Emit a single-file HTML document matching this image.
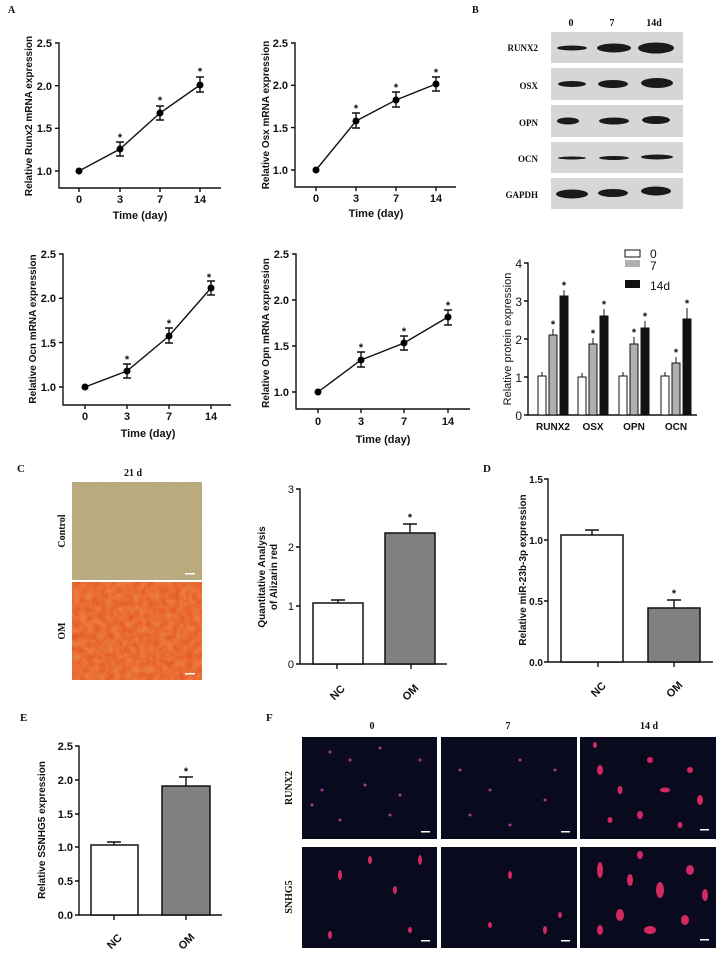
<!DOCTYPE html>
<html><head><meta charset="utf-8"><style>
html,body{margin:0;padding:0;background:#fff;}
svg{display:block;font-family:"Liberation Sans",Arial,sans-serif;}
.t{font-size:11px;font-weight:bold;fill:#111;}
.ax{font-size:10px;font-weight:bold;fill:#111;}
.s{font-family:"Liberation Serif",serif;font-weight:bold;font-size:10px;fill:#111;}
.l{stroke:#111;stroke-width:1.4;fill:none;}
</style></head><body>
<svg width="716" height="953" viewBox="0 0 716 953">
<defs>
<filter id="n1"><feTurbulence type="fractalNoise" baseFrequency="0.9" numOctaves="2" seed="3"/><feColorMatrix values="0 0 0 0 0.6  0 0 0 0 0.55  0 0 0 0 0.35  0 0 0 0.5 0"/><feComposite in2="SourceGraphic" operator="in"/></filter>
<filter id="n2"><feTurbulence type="fractalNoise" baseFrequency="0.15" numOctaves="3" seed="7"/><feColorMatrix values="0 0 0 0 0.95  0 0 0 0 0.55  0 0 0 0 0.2  0 0 0 0.5 0"/><feComposite in2="SourceGraphic" operator="in"/></filter>
</defs>
<text x="8" y="13" class="s">A</text>
<text x="472" y="13" class="s">B</text>

<!-- A1 -->
<g>
<path class="l" d="M55 43H59V188H221M55 85.7H59M55 128.3H59M55 171H59M79 188V192M120 188V192M160 188V192M200 188V192"/>
<text class="t" x="52" y="47" text-anchor="end">2.5</text><text class="t" x="52" y="90" text-anchor="end">2.0</text><text class="t" x="52" y="132" text-anchor="end">1.5</text><text class="t" x="52" y="175" text-anchor="end">1.0</text>
<text class="t" x="79" y="203" text-anchor="middle">0</text><text class="t" x="120" y="203" text-anchor="middle">3</text><text class="t" x="160" y="203" text-anchor="middle">7</text><text class="t" x="200" y="203" text-anchor="middle">14</text>
<text class="t" x="140" y="219" text-anchor="middle">Time (day)</text>
<text class="ax" transform="translate(32,116) rotate(-90)" text-anchor="middle">Relative Runx2 mRNA expression</text>
<polyline class="l" points="79,171 120,149 160,113 200,85"/>
<path class="l" d="M116 142H124M120 142V156M116 156H124M156 106H164M160 106V120M156 120H164M196 77H204M200 77V92M196 92H204"/>
<circle cx="79" cy="171" r="3.5"/><circle cx="120" cy="149" r="3.5"/><circle cx="160" cy="113" r="3.5"/><circle cx="200" cy="85" r="3.5"/>
<text class="t" x="120" y="141" text-anchor="middle">*</text><text class="t" x="160" y="104" text-anchor="middle">*</text><text class="t" x="200" y="75" text-anchor="middle">*</text>
</g>
<!-- A2 -->
<g>
<path class="l" d="M291 43H295V187H456M291 85.3H295M291 127.6H295M291 170H295M316 187V191M356 187V191M396 187V191M436 187V191"/>
<text class="t" x="288" y="47" text-anchor="end">2.5</text><text class="t" x="288" y="89" text-anchor="end">2.0</text><text class="t" x="288" y="132" text-anchor="end">1.5</text><text class="t" x="288" y="174" text-anchor="end">1.0</text>
<text class="t" x="316" y="202" text-anchor="middle">0</text><text class="t" x="356" y="202" text-anchor="middle">3</text><text class="t" x="396" y="202" text-anchor="middle">7</text><text class="t" x="436" y="202" text-anchor="middle">14</text>
<text class="t" x="376" y="217" text-anchor="middle">Time (day)</text>
<text class="ax" transform="translate(269,115) rotate(-90)" text-anchor="middle">Relative Osx mRNA expression</text>
<polyline class="l" points="316,170 356,121 396,100 436,84"/>
<path class="l" d="M352 113H360M356 113V128M352 128H360M392 92H400M396 92V107M392 107H400M432 77H440M436 77V91M432 91H440"/>
<circle cx="316" cy="170" r="3.5"/><circle cx="356" cy="121" r="3.5"/><circle cx="396" cy="100" r="3.5"/><circle cx="436" cy="84" r="3.5"/>
<text class="t" x="356" y="112" text-anchor="middle">*</text><text class="t" x="396" y="91" text-anchor="middle">*</text><text class="t" x="436" y="76" text-anchor="middle">*</text>
</g>
<!-- A3 -->
<g>
<path class="l" d="M59 254H63V405H231M59 298.3H63M59 342.6H63M59 387H63M85 405V409M127 405V409M169 405V409M211 405V409"/>
<text class="t" x="56" y="258" text-anchor="end">2.5</text><text class="t" x="56" y="302" text-anchor="end">2.0</text><text class="t" x="56" y="347" text-anchor="end">1.5</text><text class="t" x="56" y="391" text-anchor="end">1.0</text>
<text class="t" x="85" y="420" text-anchor="middle">0</text><text class="t" x="127" y="420" text-anchor="middle">3</text><text class="t" x="169" y="420" text-anchor="middle">7</text><text class="t" x="211" y="420" text-anchor="middle">14</text>
<text class="t" x="148" y="437" text-anchor="middle">Time (day)</text>
<text class="ax" transform="translate(36,329) rotate(-90)" text-anchor="middle">Relative Ocn mRNA expression</text>
<polyline class="l" points="85,387 127,371 169,336 211,288"/>
<path class="l" d="M123 364H131M127 364V378M123 378H131M165 328H173M169 328V343M165 343H173M207 281H215M211 281V295M207 295H215"/>
<circle cx="85" cy="387" r="3.5"/><circle cx="127" cy="371" r="3.5"/><circle cx="169" cy="336" r="3.5"/><circle cx="211" cy="288" r="3.5"/>
<text class="t" x="127" y="363" text-anchor="middle">*</text><text class="t" x="169" y="327" text-anchor="middle">*</text><text class="t" x="209" y="281" text-anchor="middle">*</text>
</g>
<!-- A4 -->
<g>
<path class="l" d="M292 254H296V409H470M292 300H296M292 346H296M292 392H296M318 409V413M361 409V413M404 409V413M448 409V413"/>
<text class="t" x="289" y="258" text-anchor="end">2.5</text><text class="t" x="289" y="304" text-anchor="end">2.0</text><text class="t" x="289" y="350" text-anchor="end">1.5</text><text class="t" x="289" y="396" text-anchor="end">1.0</text>
<text class="t" x="318" y="425" text-anchor="middle">0</text><text class="t" x="361" y="425" text-anchor="middle">3</text><text class="t" x="404" y="425" text-anchor="middle">7</text><text class="t" x="448" y="425" text-anchor="middle">14</text>
<text class="t" x="383" y="443" text-anchor="middle">Time (day)</text>
<text class="ax" transform="translate(269,333) rotate(-90)" text-anchor="middle">Relative Opn mRNA expression</text>
<polyline class="l" points="318,392 361,360 404,343 448,317"/>
<path class="l" d="M357 352H365M361 352V367M357 367H365M400 336H408M404 336V350M400 350H408M444 310H452M448 310V325M444 325H452"/>
<circle cx="318" cy="392" r="3.5"/><circle cx="361" cy="360" r="3.5"/><circle cx="404" cy="343" r="3.5"/><circle cx="448" cy="317" r="3.5"/>
<text class="t" x="361" y="351" text-anchor="middle">*</text><text class="t" x="404" y="335" text-anchor="middle">*</text><text class="t" x="448" y="309" text-anchor="middle">*</text>
</g>

<!-- B western -->
<g>
<text class="s" x="571" y="26" text-anchor="middle">0</text><text class="s" x="612" y="26" text-anchor="middle">7</text><text class="s" x="654" y="26" text-anchor="middle">14d</text>
<g fill="#d6d6d6"><rect x="551" y="32" width="132" height="31"/><rect x="551" y="68" width="132" height="32"/><rect x="551" y="105" width="132" height="32"/><rect x="551" y="142" width="132" height="31"/><rect x="551" y="178" width="132" height="31"/></g>
<g class="s" text-anchor="end" style="font-size:9px"><text x="538" y="51">RUNX2</text><text x="538" y="89">OSX</text><text x="538" y="126">OPN</text><text x="538" y="162">OCN</text><text x="538" y="198">GAPDH</text></g>
<g fill="#1a1a1a">
<ellipse cx="572" cy="48" rx="15" ry="2.5"/><ellipse cx="614" cy="48" rx="17" ry="4.5"/><ellipse cx="656" cy="48" rx="18" ry="5.5"/>
<ellipse cx="572" cy="84" rx="14" ry="3"/><ellipse cx="613" cy="84" rx="15" ry="4"/><ellipse cx="657" cy="83" rx="16" ry="5"/>
<ellipse cx="568" cy="121" rx="11" ry="3.5"/><ellipse cx="614" cy="121" rx="15" ry="3.5"/><ellipse cx="656" cy="120" rx="14" ry="4"/>
<ellipse cx="572" cy="158" rx="14" ry="1.5"/><ellipse cx="614" cy="158" rx="15" ry="2"/><ellipse cx="657" cy="157" rx="16" ry="2.5"/>
<ellipse cx="572" cy="194" rx="16" ry="4.5"/><ellipse cx="613" cy="193" rx="15" ry="4"/><ellipse cx="656" cy="191" rx="15" ry="4.5"/>
</g>
</g>
<!-- B bar -->
<g>
<path class="l" d="M524 263H528V415H697M524 301H528M524 339H528M524 377H528M524 415H528"/>
<g class="t" style="font-size:12px;font-weight:normal" text-anchor="end"><text x="522" y="268">4</text><text x="522" y="306">3</text><text x="522" y="344">2</text><text x="522" y="382">1</text><text x="522" y="420">0</text></g>
<text class="ax" style="font-size:11px;font-weight:normal" transform="translate(511,339) rotate(-90)" text-anchor="middle">Relative protein expression</text>
<g class="t" text-anchor="middle" style="font-size:10px"><text x="553" y="430">RUNX2</text><text x="593" y="430">OSX</text><text x="634" y="430">OPN</text><text x="676" y="430">OCN</text></g>
<g stroke="#111" stroke-width="1">
<rect x="538" y="376" width="8" height="39" fill="#fff"/><rect x="549" y="335" width="8" height="80" fill="#b0b0b0"/><rect x="560" y="296" width="8" height="119" fill="#111"/>
<rect x="578" y="377" width="8" height="38" fill="#fff"/><rect x="589" y="344" width="8" height="71" fill="#b0b0b0"/><rect x="600" y="316" width="8" height="99" fill="#111"/>
<rect x="619" y="376" width="8" height="39" fill="#fff"/><rect x="630" y="344" width="8" height="71" fill="#b0b0b0"/><rect x="641" y="328" width="8" height="87" fill="#111"/>
<rect x="661" y="376" width="8" height="39" fill="#fff"/><rect x="672" y="363" width="8" height="52" fill="#b0b0b0"/><rect x="683" y="319" width="8" height="96" fill="#111"/>
</g>
<path stroke="#111" stroke-width="1" fill="none" d="M542 376V372M553 335V329M564 296V290M582 377V373M593 344V338M604 316V309M623 376V372M634 344V337M645 328V321M665 376V372M676 363V357M687 319V308"/>
<g class="t" text-anchor="middle"><text x="553" y="328">*</text><text x="564" y="289">*</text><text x="593" y="337">*</text><text x="604" y="308">*</text><text x="634" y="336">*</text><text x="645" y="320">*</text><text x="676" y="356">*</text><text x="687" y="307">*</text></g>
<rect x="625" y="250" width="15" height="7" fill="#fff" stroke="#111"/><rect x="625" y="260" width="15" height="7" fill="#b0b0b0"/><rect x="625" y="280" width="15" height="8" fill="#111"/>
<g style="font-size:12px" fill="#111"><text x="650" y="258">0</text><text x="650" y="270">7</text><text x="650" y="290">14d</text></g>
</g>

<!-- C -->
<text class="s" x="17" y="472" style="font-size:11px">C</text>
<text class="s" x="133" y="476" text-anchor="middle">21 d</text>
<rect x="72" y="482" width="130" height="98" fill="#b4a274"/>
<rect x="72" y="482" width="130" height="98" fill="#fff" filter="url(#n1)"/>
<rect x="72" y="582" width="130" height="98" fill="#e4501c"/>
<rect x="72" y="582" width="130" height="98" fill="#fff" filter="url(#n2)"/>
<rect x="185" y="573" width="10" height="1.5" fill="#fff"/><rect x="185" y="673" width="10" height="1.5" fill="#fff"/>
<text class="s" transform="translate(65,531) rotate(-90)" text-anchor="middle">Control</text>
<text class="s" transform="translate(65,631) rotate(-90)" text-anchor="middle">OM</text>
<g>
<path class="l" d="M296 489H300V664H447M296 547H300M296 606H300M296 664H300M337 664V669M411 664V669"/>
<g class="t" style="font-weight:normal" text-anchor="end"><text x="294" y="493">3</text><text x="294" y="551">2</text><text x="294" y="610">1</text><text x="294" y="668">0</text></g>
<text class="ax" transform="translate(265,577) rotate(-90)" text-anchor="middle">Quantitative Analysis</text>
<text class="ax" transform="translate(277,577) rotate(-90)" text-anchor="middle">of Alizarin red</text>
<rect x="313" y="603" width="50" height="61" fill="#fff" stroke="#111" stroke-width="1.5"/>
<rect x="385" y="533" width="50" height="131" fill="#808080" stroke="#111" stroke-width="1.5"/>
<path class="l" d="M338 603V600M331 600H345M410 533V524M403 524H417"/>
<text class="t" x="410" y="521" text-anchor="middle">*</text>
<text class="t" transform="translate(340,695) rotate(-45)" text-anchor="middle">NC</text>
<text class="t" transform="translate(413,695) rotate(-45)" text-anchor="middle">OM</text>
</g>
<!-- D -->
<text class="s" x="483" y="472" style="font-size:11px">D</text>
<g>
<path class="l" d="M544 479H548V662H713M544 540H548M544 601H548M544 662H548M598 662V667M674 662V667"/>
<g class="t" style="font-size:10px" text-anchor="end"><text x="543" y="483">1.5</text><text x="543" y="544">1.0</text><text x="543" y="605">0.5</text><text x="543" y="666">0.0</text></g>
<text class="ax" transform="translate(526,570) rotate(-90)" text-anchor="middle">Relative miR-23b-3p expression</text>
<rect x="561" y="535" width="62" height="127" fill="#fff" stroke="#111" stroke-width="1.5"/>
<rect x="648" y="608" width="52" height="54" fill="#808080" stroke="#111" stroke-width="1.5"/>
<path class="l" d="M592 535V530M585 530H599M674 608V600M667 600H681"/>
<text class="t" x="674" y="597" text-anchor="middle">*</text>
<text class="t" transform="translate(601,692) rotate(-45)" text-anchor="middle">NC</text>
<text class="t" transform="translate(677,692) rotate(-45)" text-anchor="middle">OM</text>
</g>
<!-- E -->
<text class="s" x="20" y="721" style="font-size:11px">E</text>
<g>
<path class="l" d="M75 746H79V915H222M75 780H79M75 814H79M75 847H79M75 881H79M75 915H79M114 915V920M186 915V920"/>
<g class="t" text-anchor="end"><text x="73" y="750">2.5</text><text x="73" y="784">2.0</text><text x="73" y="818">1.5</text><text x="73" y="851">1.0</text><text x="73" y="885">0.5</text><text x="73" y="919">0.0</text></g>
<text class="ax" transform="translate(45,830) rotate(-90)" text-anchor="middle">Relative SSNHG5 expression</text>
<rect x="91" y="845" width="47" height="70" fill="#fff" stroke="#111" stroke-width="1.5"/>
<rect x="162" y="786" width="48" height="129" fill="#808080" stroke="#111" stroke-width="1.5"/>
<path class="l" d="M114 845V842M107 842H121M186 786V777M179 777H193"/>
<text class="t" x="186" y="775" text-anchor="middle">*</text>
<text class="t" transform="translate(117,944) rotate(-45)" text-anchor="middle">NC</text>
<text class="t" transform="translate(189,944) rotate(-45)" text-anchor="middle">OM</text>
</g>
<!-- F -->
<text class="s" x="266" y="721" style="font-size:11px">F</text>
<g class="s" text-anchor="middle"><text x="372" y="729">0</text><text x="508" y="729">7</text><text x="649" y="729">14 d</text></g>
<text class="s" transform="translate(292,788) rotate(-90)" text-anchor="middle">RUNX2</text>
<text class="s" transform="translate(292,897) rotate(-90)" text-anchor="middle">SNHG5</text>
<g fill="#0a0a1e">
<rect x="302" y="737" width="135" height="102"/><rect x="441" y="737" width="136" height="102"/><rect x="580" y="737" width="136" height="102"/>
<rect x="302" y="847" width="135" height="101"/><rect x="441" y="847" width="136" height="101"/><rect x="580" y="847" width="136" height="101"/>
</g>
<g fill="#a03a9a">
<circle cx="330" cy="752" r="1.5"/><circle cx="350" cy="760" r="1.5"/><circle cx="380" cy="748" r="1.5"/><circle cx="322" cy="790" r="1.5"/><circle cx="365" cy="785" r="1.5"/><circle cx="400" cy="795" r="1.5"/><circle cx="420" cy="760" r="1.5"/><circle cx="340" cy="820" r="1.5"/><circle cx="390" cy="815" r="1.5"/><circle cx="312" cy="805" r="1.5"/>
<circle cx="460" cy="770" r="1.5"/><circle cx="490" cy="790" r="1.5"/><circle cx="520" cy="760" r="1.5"/><circle cx="545" cy="800" r="1.5"/><circle cx="470" cy="815" r="1.5"/><circle cx="510" cy="825" r="1.5"/><circle cx="555" cy="770" r="1.5"/>
</g>
<g fill="#d02a60">
<ellipse cx="600" cy="770" rx="3" ry="5"/><ellipse cx="620" cy="790" rx="2.5" ry="4"/><ellipse cx="650" cy="760" rx="3" ry="3"/><ellipse cx="665" cy="790" rx="5" ry="2.5"/><ellipse cx="690" cy="770" rx="3" ry="3"/><ellipse cx="700" cy="800" rx="3" ry="5"/><ellipse cx="640" cy="815" rx="3" ry="4"/><ellipse cx="610" cy="820" rx="2.5" ry="3"/><ellipse cx="680" cy="825" rx="2.5" ry="3"/><ellipse cx="595" cy="745" rx="2" ry="3"/>
<ellipse cx="340" cy="875" rx="2" ry="5"/><ellipse cx="370" cy="860" rx="2" ry="4"/><ellipse cx="395" cy="890" rx="2" ry="4"/><ellipse cx="420" cy="860" rx="2" ry="5"/><ellipse cx="330" cy="935" rx="2" ry="4"/><ellipse cx="410" cy="930" rx="2" ry="3"/>
<ellipse cx="510" cy="875" rx="2" ry="4"/><ellipse cx="490" cy="925" rx="2" ry="3"/><ellipse cx="545" cy="930" rx="2" ry="4"/><ellipse cx="560" cy="915" rx="2" ry="3"/>
<ellipse cx="600" cy="870" rx="3" ry="8"/><ellipse cx="630" cy="880" rx="3" ry="6"/><ellipse cx="660" cy="890" rx="4" ry="8"/><ellipse cx="690" cy="870" rx="4" ry="5"/><ellipse cx="705" cy="895" rx="3" ry="6"/><ellipse cx="620" cy="915" rx="4" ry="6"/><ellipse cx="650" cy="930" rx="6" ry="4"/><ellipse cx="685" cy="920" rx="4" ry="5"/><ellipse cx="600" cy="930" rx="3" ry="5"/><ellipse cx="640" cy="855" rx="3" ry="4"/>
</g>
<g fill="#fff"><rect x="421" y="831" width="9" height="1.5"/><rect x="561" y="831" width="9" height="1.5"/><rect x="700" y="829" width="9" height="1.5"/><rect x="421" y="940" width="9" height="1.5"/><rect x="561" y="940" width="9" height="1.5"/><rect x="700" y="939" width="9" height="1.5"/></g>
</svg>
</body></html>
